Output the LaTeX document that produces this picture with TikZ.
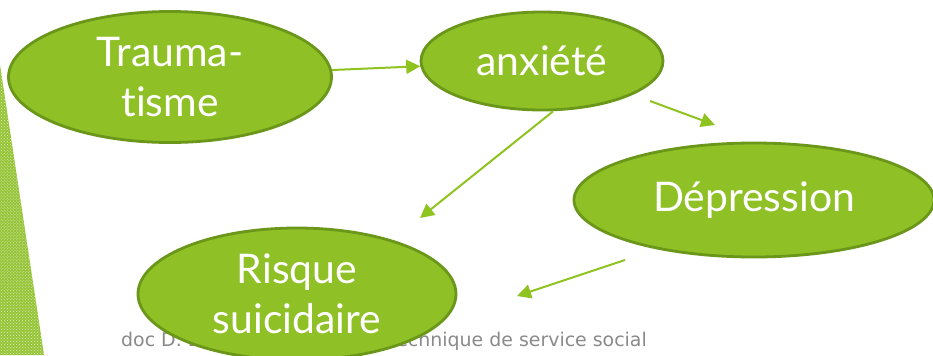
\documentclass[tikz,border=0pt]{standalone}
\usepackage{fontspec}
\setmainfont{Lato}[Ligatures={NoCommon,NoRare}]
\newfontfamily\footfont{DejaVu Sans}
\usetikzlibrary{shapes.geometric,arrows.meta,calc,patterns}
\definecolor{bubble}{HTML}{8FC026}
\definecolor{bubbleedge}{HTML}{6A961A}
\definecolor{arrowgreen}{HTML}{8FC31F}
\definecolor{stripgreen}{HTML}{95C436}
\definecolor{footgray}{HTML}{8A8A8A}
\tikzset{
  bubblenode/.style={ellipse, fill=bubble, draw=bubbleedge, line width=2.8bp, inner sep=0pt,
    text=white, font=\fontsize{41}{50}\selectfont, align=center},
  arr/.style={draw=arrowgreen, line width=2bp, -{Triangle[length=14bp,width=14bp]}},
  foot/.style={text=footgray, font=\footfont\fontsize{19}{22}\selectfont, inner sep=0pt}
}
\begin{document}
\begin{tikzpicture}[x=1bp,y=-1bp]
\useasboundingbox (0,0) rectangle (933,355);
\fill[white] (0,0) rectangle (933,355);
% left strip
\fill[stripgreen] (0,65) -- (44,355) -- (0,355) -- cycle;
\fill[pattern=crosshatch dots, pattern color=white!70!stripgreen] (0,65) -- (44,355) -- (0,355) -- cycle;
% footer (partly hidden by the bubble)
\node[foot, anchor=base west] (f1) at (121,346) {doc D. Bo};
\node[foot, anchor=base east] (f2) at (647,346) {technique de service social};
% bubbles
\node[bubblenode, minimum width=323bp, minimum height=131bp] (tr) at (170,77) {Trauma-\\tisme};
\node[bubblenode, minimum width=242bp, minimum height=98bp] (ax) at (542,61) {anxiété};
\node[bubblenode, minimum width=360bp, minimum height=114bp] (dp) at (754,200) {Dépression};
\node[bubblenode, minimum width=318bp, minimum height=132bp] (rs) at (297,294) {Risque\\suicidaire};
% arrows
\draw[arr] (tr) -- (ax);
\draw[arr] ($(ax.center)+(108,40)$) -- ($(dp.center)+(-39,-75)$);
\draw[arr] ($(ax.south)+(11,0)$) -- ($(rs.center)+(123,-76)$);
\draw[arr] ($(dp.center)+(-129,60)$) -- ($(rs.center)+(220,2)$);
\end{tikzpicture}
\end{document}
